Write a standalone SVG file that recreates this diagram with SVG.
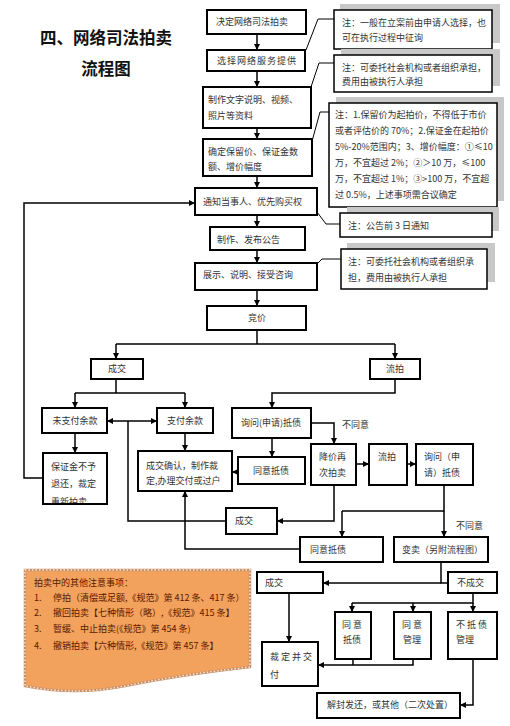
<svg xmlns="http://www.w3.org/2000/svg" width="510" height="726" viewBox="0 0 510 726">
<defs>
<marker id="ah" viewBox="0 0 10 10" refX="10" refY="5" markerWidth="6" markerHeight="6" markerUnits="userSpaceOnUse" orient="auto-start-reverse">
<path d="M0,0 L10,5 L0,10 Z" fill="#000"/>
</marker>
<clipPath id="clipBzj"><rect x="43" y="453" width="64" height="50"/></clipPath>
</defs>
<style>
.b{fill:#fff;stroke:#000;stroke-width:2}
.n{fill:#fff;stroke:#000;stroke-width:1.5}
.sh{fill:#c8c8c8}
.t{font-family:"Noto Sans CJK SC","Noto Sans",sans-serif;font-size:9px;fill:#333}
.c{text-anchor:middle}
.ttl{font-family:"Noto Sans CJK SC",sans-serif;font-size:16.5px;font-weight:700;fill:#111;text-anchor:middle}
.ln{fill:none;stroke:#000;stroke-width:1.5}
.a{fill:none;stroke:#000;stroke-width:1.5;marker-end:url(#ah)}
.o{font-family:"Noto Sans CJK SC","Noto Sans",sans-serif;font-size:9px;fill:#5a1800}
</style>
<rect width="510" height="726" fill="#fff"/>

<g id="title">
<text class="ttl" x="106" y="44">四、网络司法拍卖</text>
<text class="ttl" x="106" y="75">流程图</text>
</g>

<g id="connectors">
<path class="a" d="M257,34 V50"/>
<path class="a" d="M257,71 V87"/>
<path class="a" d="M257,128 V139"/>
<path class="a" d="M257,176 V188"/>
<path class="a" d="M257,215 V227"/>
<path class="a" d="M257,250 V263"/>
<path class="a" d="M257,290 V306"/>
<path class="ln" d="M257,330 V344 M116,344 H395"/>
<path class="a" d="M116,344 V359"/>
<path class="a" d="M395,344 V359"/>
<path class="ln" d="M116,379 V393 M75,393 H185"/>
<path class="a" d="M75,393 V408"/>
<path class="a" d="M185,393 V408"/>
<path class="a" d="M107,421 H157" style="marker-start:url(#ah)"/>
<path class="ln" d="M128,421 V521 H226"/>
<path class="a" d="M75,433 V453"/>
<path class="a" d="M43,478 H24 V203 H195"/>
<path class="a" d="M185,433 V451"/>
<path class="a" d="M395,379 V393 H272 V408"/>
<path class="a" d="M311,423 H334 V444"/>
<path class="a" d="M272,438 V457"/>
<path class="a" d="M238,472 H232"/>
<path class="a" d="M356,464 H369"/>
<path class="a" d="M407,464 H416"/>
<path class="a" d="M334,485 V521 H277"/>
<path class="ln" d="M444,485 V511 H342"/>
<path class="a" d="M342,511 V537"/>
<path class="a" d="M444,511 V537"/>
<path class="a" d="M300,549 H185 V491"/>
<path class="ln" d="M441,562 V583 H448"/>
<path class="a" d="M441,583 H323"/>
<path class="ln" d="M473,593 V603 H352"/>
<path class="a" d="M352,603 V612"/>
<path class="a" d="M413,603 V612"/>
<path class="a" d="M473,603 V612"/>
<path class="a" d="M289,593 V642"/>
<path class="ln" d="M353,659 V665"/>
<path class="a" d="M413,659 V665 H318"/>
<path class="a" d="M473,659 V705 H460"/>
<path class="ln" style="stroke-width:1" d="M306,50 L318,19 H334"/>
<path class="ln" style="stroke-width:1" d="M311,87 L319,63 H334"/>
<path class="ln" style="stroke-width:1" d="M311,145 L320,112 H329"/>
<path class="ln" style="stroke-width:1" d="M317,212 L326,224 H340"/>
<path class="ln" style="stroke-width:1" d="M317,264 L322,259 H341"/>
<text class="t" x="342" y="428">不同意</text>
<text class="t" x="456" y="529">不同意</text>
</g>

<g id="n1"><rect class="b" x="207" y="10" width="99" height="24"/><text class="t" x="216" y="25">决定网络司法拍卖</text></g>
<g id="n2"><rect class="b" x="207" y="50" width="98" height="21"/><text class="t" x="217" y="64" letter-spacing="1">选择网络服务提供</text></g>
<g id="n3"><rect class="b" x="203" y="87" width="108" height="41"/><text class="t" x="208" y="103">制作文字说明、视频、</text><text class="t" x="208" y="119">照片等资料</text></g>
<g id="n4"><rect class="b" x="203" y="139" width="109" height="37"/><text class="t" x="208" y="155">确定保留价、保证金数</text><text class="t" x="208" y="170">额、增价幅度</text></g>
<g id="n5"><rect class="b" x="195" y="188" width="122" height="27"/><text class="t" x="203" y="205">通知当事人、优先购买权</text></g>
<g id="n6"><rect class="b" x="210" y="227" width="95" height="23"/><text class="t" x="217" y="243">制作、发布公告</text></g>
<g id="n7"><rect class="b" x="195" y="263" width="122" height="27"/><text class="t" x="203" y="278">展示、说明、接受咨询</text></g>
<g id="n8"><rect class="b" x="207" y="306" width="99" height="24"/><text class="t c" x="257" y="321">竞价</text></g>

<g id="note1"><rect class="sh" x="340" y="4" width="160" height="39"/><rect class="n" x="334" y="10" width="158" height="39"/><text class="t" x="342" y="26">注：一般在立案前由申请人选择，也</text><text class="t" x="342" y="41">可在执行过程中征询</text></g>
<g id="note2"><rect class="sh" x="341" y="49" width="159" height="37"/><rect class="n" x="334" y="55" width="158" height="37"/><text class="t" x="342" y="71">注：可委托社会机构或者组织承担，</text><text class="t" x="342" y="85">费用由被执行人承担</text></g>
<g id="note3"><rect class="sh" x="336" y="97" width="168" height="104"/><rect class="n" x="329" y="103" width="168" height="104"/>
<text class="t" x="335" y="118">注：1.保留价为起拍价，不得低于市价</text>
<text class="t" x="335" y="134">或者评估价的 70%；2.保证金在起拍价</text>
<text class="t" x="335" y="150">5%-20%范围内；3、增价幅度：①≤10</text>
<text class="t" x="335" y="166">万，不宜超过 2%；②＞10 万，≤100</text>
<text class="t" x="335" y="182">万，不宜超过 1%；③&gt;100 万，不宜超</text>
<text class="t" x="335" y="198">过 0.5%，上述事项需合议确定</text></g>
<g id="note4"><rect class="sh" x="347" y="207" width="152" height="24"/><rect class="n" x="340" y="213" width="152" height="24"/><text class="t" x="348" y="229">注：公告前 3 日通知</text></g>
<g id="note5"><rect class="sh" x="347" y="243" width="148" height="39"/><rect class="n" x="341" y="249" width="146" height="40"/><text class="t" x="348" y="265">注：可委托社会机构或者组织承</text><text class="t" x="348" y="281">担，费用由被执行人承担</text></g>

<g id="cj1"><rect class="b" x="91" y="359" width="52" height="20"/><text class="t c" x="117" y="372">成交</text></g>
<g id="lp1"><rect class="b" x="370" y="359" width="50" height="20"/><text class="t c" x="395" y="372">流拍</text></g>
<g id="wzf"><rect class="b" x="42" y="408" width="65" height="25"/><text class="t c" x="75" y="424">未支付余款</text></g>
<g id="zf"><rect class="b" x="157" y="408" width="56" height="25"/><text class="t c" x="185" y="424">支付余款</text></g>
<g id="bzj"><rect class="b" x="43" y="453" width="64" height="51"/><g clip-path="url(#clipBzj)"><text class="t" x="51" y="470">保证金不予</text><text class="t" x="51" y="487">退还，裁定</text><text class="t" x="51" y="505">重新拍卖</text></g></g>
<g id="cjqr"><rect class="b" x="138" y="451" width="94" height="40"/><text class="t" x="146" y="469">成交确认，制作裁</text><text class="t" x="146" y="484">定,办理交付或过户</text></g>
<g id="xw1"><rect class="b" x="232" y="408" width="79" height="30"/><text class="t" x="241" y="426">询问(申请)抵债</text></g>
<g id="tydz1"><rect class="b" x="238" y="457" width="67" height="27"/><text class="t c" x="271" y="474">同意抵债</text></g>
<g id="jj"><rect class="b" x="311" y="444" width="45" height="41"/><text class="t" x="319" y="460">降价再</text><text class="t" x="319" y="476">次拍卖</text></g>
<g id="lp2"><rect class="b" x="369" y="444" width="38" height="41"/><text class="t" x="378" y="460">流拍</text></g>
<g id="xw2"><rect class="b" x="416" y="444" width="57" height="41"/><text class="t" x="424" y="460">询问（申</text><text class="t" x="424" y="476">请）抵债</text></g>
<g id="cj2"><rect class="b" x="226" y="508" width="51" height="26"/><text class="t" x="235" y="524">成交</text></g>
<g id="tydz2"><rect class="b" x="300" y="537" width="83" height="25"/><text class="t" x="310" y="553">同意抵债</text></g>
<g id="bm"><rect class="b" x="394" y="537" width="94" height="25"/><text class="t" x="402" y="553">变卖（另附流程图）</text></g>
<g id="cj3"><rect class="b" x="257" y="572" width="66" height="21"/><text class="t" x="265" y="586">成交</text></g>
<g id="bcj"><rect class="b" x="448" y="572" width="49" height="21"/><text class="t" x="457" y="586">不成交</text></g>
<g id="tydz3"><rect class="b" x="335" y="612" width="36" height="47"/><text class="t" x="342" y="628">同 意</text><text class="t" x="343" y="643">抵债</text></g>
<g id="tygl"><rect class="b" x="394" y="612" width="37" height="47"/><text class="t" x="402" y="628">同 意</text><text class="t" x="403" y="643">管理</text></g>
<g id="bdzgl"><rect class="b" x="448" y="612" width="49" height="47"/><text class="t" x="456" y="628">不 抵 债</text><text class="t" x="456" y="643">管理</text></g>
<g id="cdjf"><rect class="b" x="262" y="642" width="56" height="44"/><text class="t" x="270" y="660">裁 定 并 交</text><text class="t" x="270" y="678">付</text></g>
<g id="jf"><rect class="b" x="317" y="693" width="143" height="25"/><text class="t" x="327" y="708">解封发还，或其他（二次处置）</text></g>

<g id="notice">
<path d="M25,570 H250 V667 C205,672 165,678 125,686 C85,694 50,691 25,686 Z" fill="#f2a25c" stroke="#c8906a" stroke-width="2.5"/>
<path d="M25,570 H250 V667 C205,672 165,678 125,686 C85,694 50,691 25,686 Z" fill="none" stroke="#fde7cc" stroke-width="1.5" stroke-dasharray="1.5 2"/>
<text class="o" x="34" y="586">拍卖中的其他注意事项：</text>
<text class="o" x="34" y="601">1.</text><text class="o" x="53" y="601">停拍（清偿或足额,《规范》第 412 条、417 条）</text>
<text class="o" x="34" y="616">2.</text><text class="o" x="53" y="616">撤回拍卖【七种情形（略）,《规范》415 条】</text>
<text class="o" x="34" y="632">3.</text><text class="o" x="53" y="632">暂缓、中止拍卖(《规范》第 454 条)</text>
<text class="o" x="34" y="649">4.</text><text class="o" x="53" y="649">撤销拍卖【六种情形,《规范》第 457 条】</text>
</g>
</svg>
